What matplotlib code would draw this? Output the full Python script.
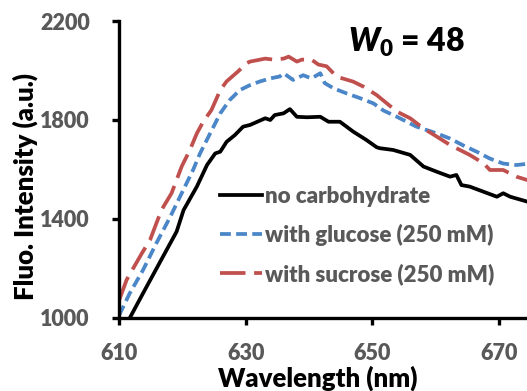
import matplotlib
matplotlib.use("Agg")
import matplotlib.pyplot as plt

# ---- data ----
wl_none = [611.7, 613.8, 616.5, 619.1, 620.2, 622.3, 623.9, 625.2, 626.0, 627.0, 628.3, 629.6,
           630.7, 633.1, 633.9, 634.6, 636.0, 637.0, 638.1, 639.7, 641.8, 643.1, 644.9, 647.0,
           649.1, 650.7, 651.2, 653.3, 656.0, 658.1, 660.2, 662.3, 663.3, 664.1, 665.4, 667.6,
           669.7, 670.7, 671.8, 674.8]
int_none = [1000, 1100, 1227, 1349, 1436, 1531, 1618, 1665, 1672, 1712, 1739, 1773,
            1780, 1807, 1800, 1820, 1827, 1844, 1813, 1811, 1813, 1793, 1793, 1753,
            1719, 1690, 1686, 1679, 1659, 1612, 1591, 1571, 1578, 1537, 1531, 1510,
            1490, 1504, 1490, 1468]

wl_glucose = [610.0, 611.7, 613.8, 615.9, 618.1, 619.9, 621.7, 622.8, 624.4, 626.0, 627.5, 629.1,
              630.7, 632.3, 633.9, 635.4, 636.0, 637.5, 639.1, 640.4, 641.8, 642.5, 643.9, 646.0,
              648.1, 650.2, 651.8, 653.9, 657.0, 660.2, 662.3, 664.4, 666.5, 668.6, 670.7, 672.8,
              674.8]
int_glucose = [1010, 1100, 1194, 1302, 1409, 1504, 1598, 1665, 1746, 1827, 1881, 1921,
               1941, 1956, 1968, 1976, 1989, 1962, 1981, 1968, 1989, 1949, 1928, 1907,
               1888, 1867, 1838, 1813, 1773, 1746, 1725, 1697, 1672, 1644, 1624, 1618,
               1624]

wl_sucrose = [610.0, 611.2, 613.6, 614.9, 616.7, 618.3, 619.9, 621.2, 622.3, 623.3, 624.6, 626.0,
              627.0, 628.8, 630.2, 630.7, 632.3, 633.1, 634.4, 636.0, 636.8, 638.1, 638.9, 640.4,
              641.5, 642.8, 644.4, 647.0, 648.6, 650.7, 653.9, 656.0, 658.1, 660.2, 662.3, 665.4,
              667.6, 668.6, 670.7, 672.8, 674.8]
int_sucrose = [1070, 1154, 1261, 1315, 1436, 1504, 1612, 1679, 1746, 1793, 1840, 1921,
               1956, 1996, 2030, 2036, 2044, 2048, 2044, 2048, 2056, 2036, 2044, 2044,
               2024, 2017, 1975, 1955, 1935, 1901, 1834, 1807, 1766, 1733, 1699, 1659,
               1625, 1598, 1598, 1571, 1555]

labels = ["no carbohydrate", "with glucose (250 mM)", "with sucrose (250 mM)"]
x_ticks = [610, 630, 650, 670]
y_ticks = [1000, 1400, 1800, 2200]

plt.rcParams['font.family'] = ['Lato', 'DejaVu Sans']
plt.rcParams['font.weight'] = 'heavy'
plt.rcParams['mathtext.fontset'] = 'custom'
plt.rcParams['mathtext.it'] = 'Lato:italic:heavy'
plt.rcParams['mathtext.rm'] = 'Lato:heavy'
plt.rcParams['mathtext.bf'] = 'Lato:heavy'

W, H = 527, 391
fig = plt.figure(figsize=(W / 100, H / 100), dpi=100)
ax = fig.add_axes([119 / W, 1 - 318 / H, (W - 119) / W, (318 - 21) / H])

lw = 2.7
ax.plot(wl_none, int_none, color='black', lw=lw, label=labels[0], solid_joinstyle='round')
ax.plot(wl_glucose, int_glucose, color='#4a86c8', lw=lw, dashes=(2.9, 1.4), label=labels[1])
ax.plot(wl_sucrose, int_sucrose, color='#c0504d', lw=lw, dashes=(6.8, 2.3), label=labels[2])

ax.set_xlim(610, 610 + (W - 119) / 6.33)
ax.set_ylim(1000, 2200)
ax.set_xticks(x_ticks)
ax.set_yticks(y_ticks)

for s in ['top', 'right']:
    ax.spines[s].set_visible(False)
for s in ['left', 'bottom']:
    ax.spines[s].set_linewidth(2.4)
ax.tick_params(axis='both', direction='out', length=5, width=2.4, colors='black',
               labelcolor='#595959', labelsize=15.5)
ax.tick_params(axis='x', pad=13)
ax.tick_params(axis='y', pad=16)
for lab in ax.get_xticklabels() + ax.get_yticklabels():
    lab.set_fontweight('heavy')

# axis titles
fig.text(318 / W, 1 - 387 / H, "Wavelength (nm)", fontsize=18.5, fontweight='heavy',
         color='black', ha='center', va='baseline')
fig.text(25 / W, 1 - 186 / H, "Fluo. Intensity (a.u.)", fontsize=18.5, fontweight='heavy',
         color='black', ha='center', va='center', rotation=90)

leg = ax.legend(loc='upper left', bbox_to_anchor=(220 / W, 1 - 186 / H),
                bbox_transform=fig.transFigure,
                frameon=False, fontsize=16, handlelength=1.9, handletextpad=0.14,
                labelspacing=0.76, borderaxespad=0, borderpad=0)
for t in leg.get_texts():
    t.set_color('#595959')
    t.set_fontweight('heavy')

# title "W0 = 48"
fig.text(348 / W, 1 - 52 / H, r"$W_0$ = 48", fontsize=23, fontweight='heavy',
         color='black', ha='left', va='baseline')

fig.savefig("out.png", dpi=100)
